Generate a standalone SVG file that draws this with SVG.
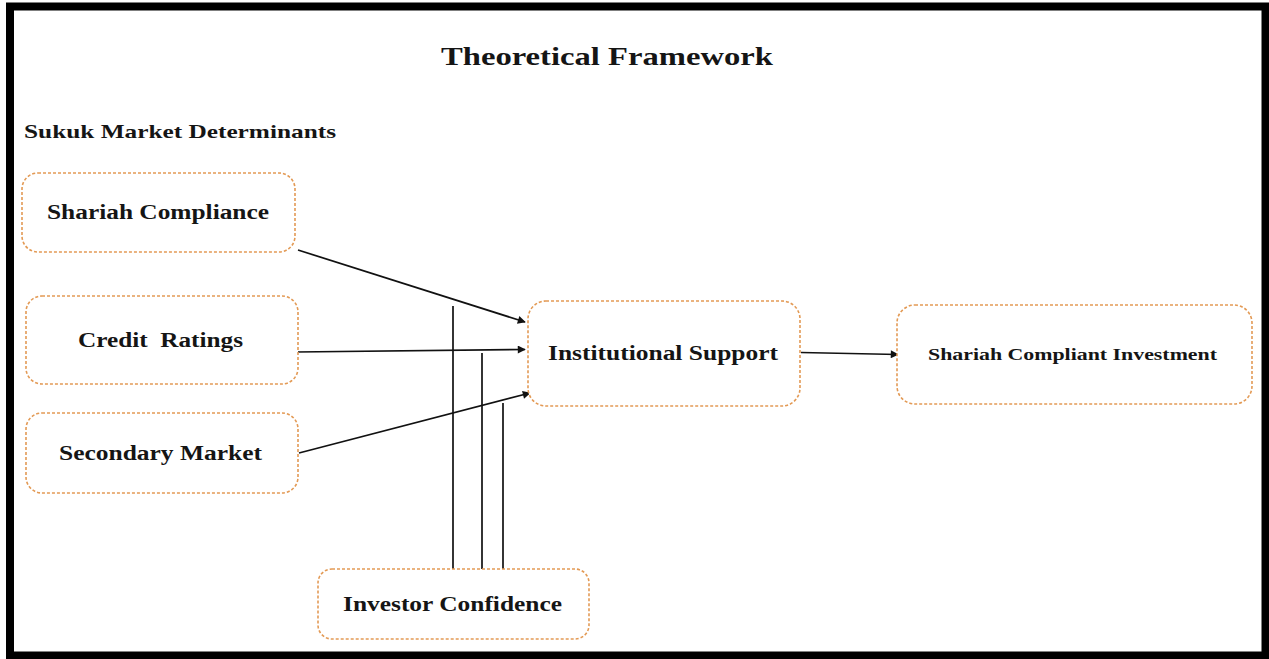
<svg xmlns="http://www.w3.org/2000/svg" width="1269" height="659" viewBox="0 0 1269 659">
  <style>
    .box { fill: #ffffff; stroke: #E39A55; stroke-width: 1.6; stroke-dasharray: 3 2; }
    .lbl { font-family: "Liberation Serif", "Times New Roman", serif; font-weight: bold; fill: #151515; }
    .edge { stroke: #111111; stroke-width: 1.7; fill: none; }
  </style>
  <defs>
    <marker id="arrow" viewBox="0 0 10 10" refX="9" refY="5" markerWidth="10" markerHeight="8" orient="auto" markerUnits="userSpaceOnUse">
      <path d="M0,0 L10,5 L0,10 z" fill="#111111"/>
    </marker>
  </defs>

  <rect x="0" y="0" width="1269" height="659" fill="#ffffff"/>
  <!-- outer frame -->
  <rect x="10" y="6.5" width="1255.5" height="649" fill="none" stroke="#000000" stroke-width="8"/>

  <text class="lbl" x="441" y="65" font-size="26" textLength="332" lengthAdjust="spacingAndGlyphs">Theoretical Framework</text>
  <text class="lbl" x="24" y="138" font-size="19" textLength="312" lengthAdjust="spacingAndGlyphs">Sukuk Market Determinants</text>

  <g id="connectors">
    <line class="edge" x1="298" y1="250" x2="525" y2="322" marker-end="url(#arrow)"/>
    <line class="edge" x1="296" y1="352" x2="525" y2="349.5" marker-end="url(#arrow)"/>
    <line class="edge" x1="299" y1="453" x2="530" y2="393" marker-end="url(#arrow)"/>
    <line class="edge" x1="801" y1="352.5" x2="898" y2="354.5" marker-end="url(#arrow)"/>
    <line class="edge" x1="453" y1="306" x2="453" y2="569"/>
    <line class="edge" x1="482" y1="353" x2="482" y2="569"/>
    <line class="edge" x1="503" y1="403" x2="503" y2="569"/>
  </g>

  <g id="shariah-compliance">
    <rect class="box" x="22" y="173" width="273" height="79" rx="16"/>
    <text class="lbl" x="47" y="219" font-size="20" textLength="222" lengthAdjust="spacingAndGlyphs">Shariah Compliance</text>
  </g>
  <g id="credit-ratings">
    <rect class="box" x="26" y="296" width="272" height="88" rx="16"/>
    <text class="lbl" x="78" y="347" font-size="20" textLength="165" lengthAdjust="spacingAndGlyphs" xml:space="preserve">Credit  Ratings</text>
  </g>
  <g id="secondary-market">
    <rect class="box" x="26" y="413" width="272" height="80" rx="16"/>
    <text class="lbl" x="59" y="460" font-size="20" textLength="203" lengthAdjust="spacingAndGlyphs">Secondary Market</text>
  </g>
  <g id="institutional-support">
    <rect class="box" x="528" y="301" width="272" height="105" rx="18"/>
    <text class="lbl" x="548" y="360" font-size="20" textLength="230" lengthAdjust="spacingAndGlyphs">Institutional Support</text>
  </g>
  <g id="shariah-compliant-investment">
    <rect class="box" x="897" y="305" width="355" height="99" rx="18"/>
    <text class="lbl" x="928" y="360" font-size="17" textLength="289" lengthAdjust="spacingAndGlyphs">Shariah Compliant Investment</text>
  </g>
  <g id="investor-confidence">
    <rect class="box" x="318" y="569" width="271" height="70" rx="14"/>
    <text class="lbl" x="343" y="611" font-size="20" textLength="219" lengthAdjust="spacingAndGlyphs">Investor Confidence</text>
  </g>
</svg>
